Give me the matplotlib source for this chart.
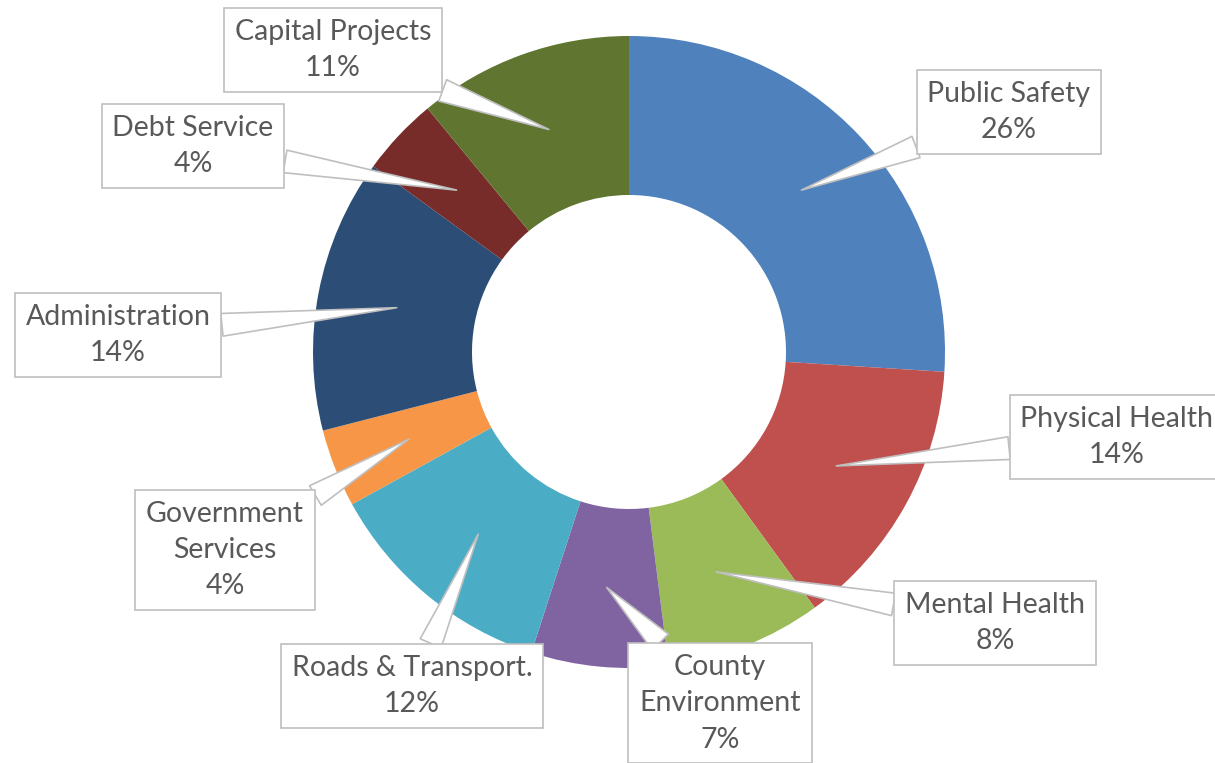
import numpy as np
import matplotlib
matplotlib.use('Agg')
import matplotlib.pyplot as plt

plt.rcParams['font.family'] = ['Lato', 'DejaVu Sans']

categories = ['Public Safety', 'Physical Health', 'Mental Health', 'County\nEnvironment',
              'Roads & Transport.', 'Government\nServices', 'Administration',
              'Debt Service', 'Capital Projects']
shares = [26, 14, 8, 7, 12, 4, 14, 4, 11]
colors = ['#4F81BD', '#C0504D', '#9BBB59', '#8064A2', '#4BACC6',
          '#F79646', '#2C4D75', '#772C2A', '#5F7530']

# label box centres, pixel layout (x from left, y from top)
label_pos = [(1009, 112), (1117, 437), (995, 623), (720, 703), (412, 686),
             (225, 550), (118, 335), (193, 146), (333, 50)]

W, H = 1215, 763
fig = plt.figure(figsize=(W / 100, H / 100), dpi=100)
ax = fig.add_axes([0, 0, 1, 1])

cx, cy = 629, H - 352
r_out, ring = 316, 159
ax.pie(shares, colors=colors, startangle=90, counterclock=False,
       radius=r_out, center=(cx, cy), wedgeprops=dict(width=ring, linewidth=0))
ax.set_xlim(0, W)
ax.set_ylim(0, H)
ax.axis('off')

r_mid = r_out - ring / 2
cum = np.cumsum([0] + shares)
for i, (name, val) in enumerate(zip(categories, shares)):
    mid = 90 - (cum[i] + val / 2) / sum(shares) * 360
    tip = (cx + r_mid * np.cos(np.radians(mid)), cy + r_mid * np.sin(np.radians(mid)))
    lx, ly = label_pos[i]
    ax.annotate(f'{name}\n{val}%', xy=tip, xytext=(lx, H - ly),
                ha='center', va='center', multialignment='center',
                fontsize=20.5, color='#595959', linespacing=1.5,
                bbox=dict(boxstyle='square,pad=0.38', fc='white', ec='#BFBFBF', lw=1.2),
                arrowprops=dict(arrowstyle='wedge,tail_width=0.8,shrink_factor=0.5',
                                fc='white', ec='#BFBFBF', lw=1.2, shrinkA=0, shrinkB=0))

fig.savefig('out.png', dpi=100)
